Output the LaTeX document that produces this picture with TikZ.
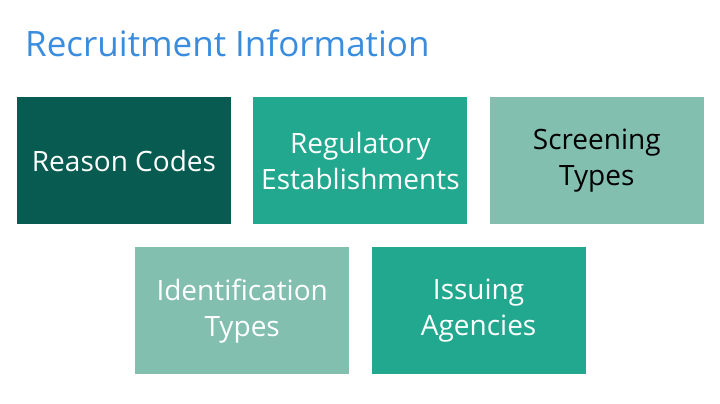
\documentclass[tikz,border=0pt]{standalone}
\usepackage{fontspec}
\setmainfont{Open Sans}
\usetikzlibrary{positioning,calc}
\definecolor{titleblue}{HTML}{3A8DDE}
\definecolor{darkteal}{HTML}{085B50}
\definecolor{midteal}{HTML}{22A88E}
\definecolor{paleteal}{HTML}{82BFAE}
\begin{document}
\begin{tikzpicture}[x=1pt, y=-1pt, node distance=22pt,
  box/.style={rectangle, minimum width=214pt, minimum height=127pt, inner sep=0pt,
    text=white, align=center, font=\fontsize{28}{36}\selectfont}]
\useasboundingbox[fill=white] (0,0) rectangle (720,404);
\node[anchor=base west, text=titleblue, inner sep=0pt, font=\fontsize{35}{40}\selectfont] (title) at (25,57) {Recruitment Information};

\node[box, fill=darkteal] (reason) at (124,160.5) {Reason Codes};
\node[box, fill=midteal] (regulatory) [right=of reason] {Regulatory\\Establishments};
\node[box, fill=paleteal, text=black] (screening) [right=of regulatory] {Screening\\Types};

\coordinate (mid) at ($(reason.south east)!0.5!(regulatory.south west)$);
\node[box, fill=paleteal, anchor=north] (identification) at ($(mid)+(0,23)$) {Identification\\Types};
\node[box, fill=midteal] (issuing) [right=of identification] {Issuing\\Agencies};
\end{tikzpicture}
\end{document}
